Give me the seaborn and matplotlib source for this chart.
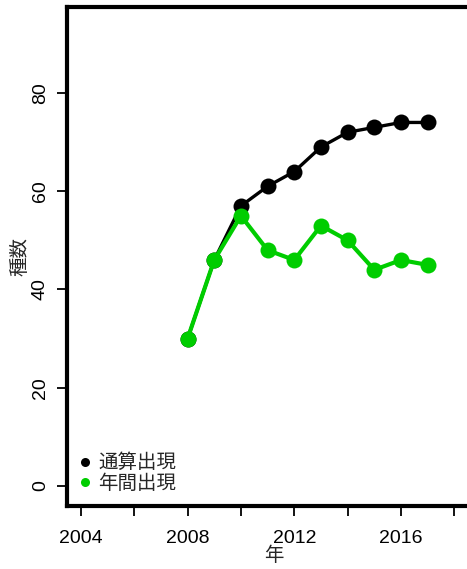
import matplotlib
matplotlib.use("Agg")
import matplotlib.pyplot as plt
from matplotlib.lines import Line2D
import seaborn as sns
import pandas as pd

years = [2008, 2009, 2010, 2011, 2012, 2013, 2014, 2015, 2016, 2017]
cumulative = [30, 46, 57, 61, 64, 69, 72, 73, 74, 74]
annual = [30, 46, 55, 48, 46, 53, 50, 44, 46, 45]
series_names = ["通算出現", "年間出現"]
series_colors = ["#000000", "#00CD00"]
x_ticks = [2004, 2006, 2008, 2010, 2012, 2014, 2016, 2018]
y_ticks = [0, 20, 40, 60, 80]

sns.set_style("white")
plt.rcParams['font.family'] = ['Liberation Sans', 'Noto Sans CJK JP']

df = pd.DataFrame({"年": years * 2,
                   "種数": cumulative + annual,
                   "系列": [series_names[0]] * len(years) + [series_names[1]] * len(years)})

W, H = 467, 569
fig = plt.figure(figsize=(W / 100, H / 100), dpi=100)
ax = fig.add_axes([67 / W, 1 - 506 / H, 414 / W, 499 / H])

for name, col, lw in zip(series_names, series_colors, [2.4, 3.0]):
    sub = df[df["系列"] == name]
    sns.lineplot(data=sub, x="年", y="種数", ax=ax, color=col, linewidth=lw,
                 marker="o", markersize=11.5, markeredgewidth=0, legend=False)

ax.set_xlim(2003.48, 2019.0)
ax.set_ylim(-4.07, 97.5)
ax.set_xticks(x_ticks)
ax.set_xticklabels([str(t) if t % 4 == 0 else "" for t in x_ticks])
ax.set_yticks(y_ticks)
ax.set_yticklabels([str(t) for t in y_ticks], rotation=90, va="center")
ax.tick_params(axis="both", direction="out", length=7, width=1.3, labelsize=14,
               color="black", labelcolor="black", bottom=True, left=True)
ax.tick_params(axis="y", pad=6)
ax.tick_params(axis="x", pad=10)

for s in ["left", "top", "bottom"]:
    ax.spines[s].set_visible(True)
    ax.spines[s].set_linewidth(3)
    ax.spines[s].set_color("black")
ax.spines["right"].set_visible(False)

ax.set_xlabel("年", fontsize=14, labelpad=0)
ax.set_ylabel("種数", fontsize=14, labelpad=2)

handles = [Line2D([], [], linestyle="none", marker="o", markersize=6.5,
                  color=c, markeredgewidth=0) for c in series_colors]
ax.legend(handles, series_names, loc="lower left", bbox_to_anchor=(0.0, 0.011),
          frameon=False, fontsize=14, handletextpad=0.2, labelspacing=0.1,
          handlelength=1.0, borderaxespad=0.1, borderpad=0.3)

fig.savefig("out.png", dpi=100)
